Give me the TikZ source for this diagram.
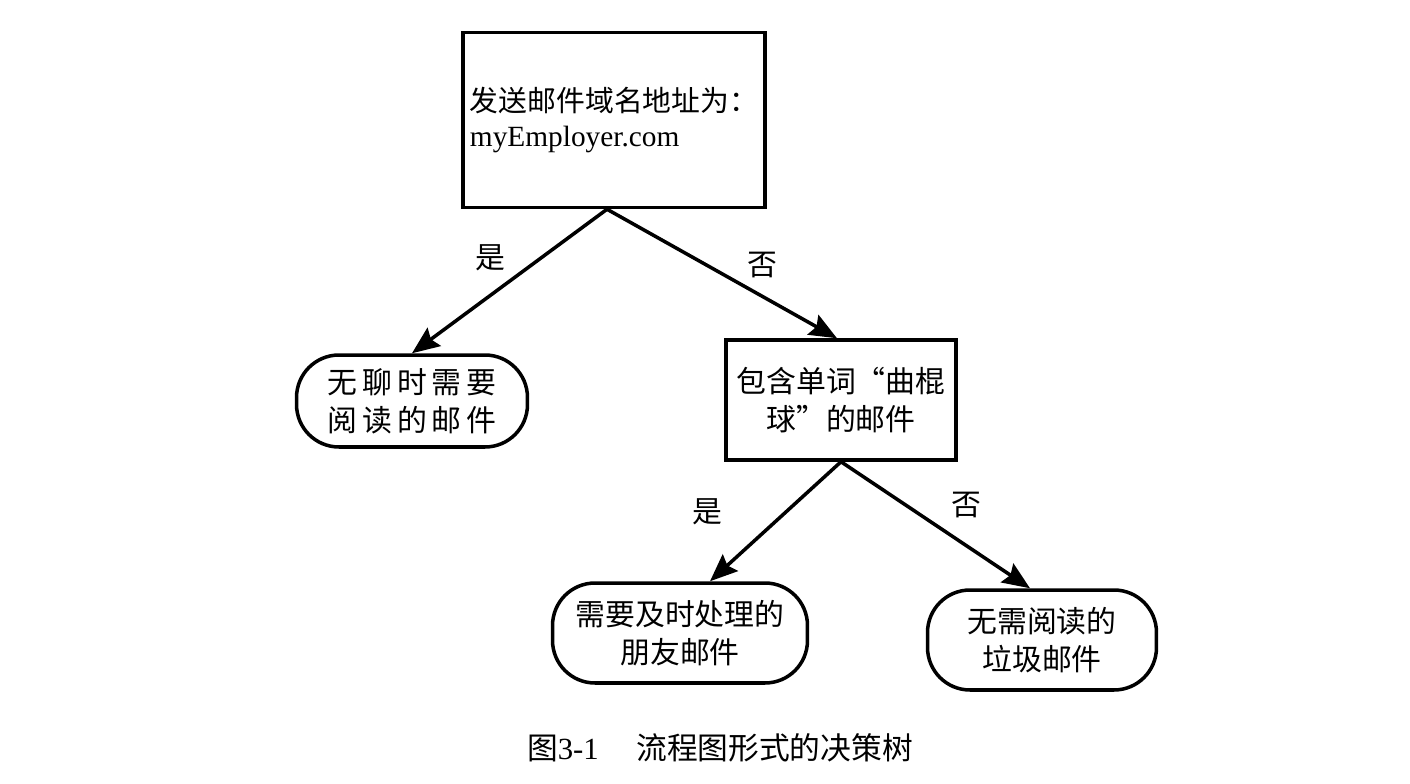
\documentclass[tikz,border=0pt]{standalone}
\usepackage{fontspec}
\setmainfont{Liberation Serif}
\newfontfamily\cjk{Noto Sans CJK SC}
\usetikzlibrary{arrows.meta,positioning}

\tikzset{
  boxnode/.style = {draw, line width = 2pt, shape = rectangle, align = center, font = \fontsize{17}{21.5}\selectfont\cjk},
  leafnode/.style = {draw, line width = 2pt, shape = rectangle, rounded corners = 0.85cm, align = center, font = \fontsize{17}{21.5}\selectfont\cjk},
  answer/.style = {font = \fontsize{17}{21.5}\selectfont\cjk},
  edge/.style = {line width = 2pt, -{Stealth[length = 0.55cm, width = 0.45cm, inset = 0.08cm]}}
}

\begin{document}
\begin{tikzpicture}[x = 0.02cm, y = -0.02cm]
\useasboundingbox (0,0) rectangle (1410,784);
% decision nodes
\node[boxnode, minimum width = 6.04cm, minimum height = 3.5cm, inner xsep = 0.5pt, align = left,
      font = \fontsize{16.4}{21.5}\selectfont\cjk] (domain) at (614,120)
  {\raisebox{-0.1cm}{发送邮件域名地址为：}\\[0.05cm]{\rmfamily\fontsize{16.7}{21.5}\selectfont myEmployer.com}};
\node[boxnode, minimum width = 4.6cm, minimum height = 2.4cm] (hockey) at (841,400)
  {包含单词“曲棍\\球”的邮件};
% leaves
\node[leafnode, minimum width = 4.62cm, minimum height = 1.84cm] (boring) at (412,401)
  {无\,聊\,时\,需\,要\\阅\,读\,的\,邮\,件};
\node[leafnode, minimum width = 5.1cm, minimum height = 2cm] (friend) at (680,633)
  {需要及时处理的\\朋友邮件};
\node[leafnode, minimum width = 4.58cm, minimum height = 2cm] (spam) at (1042,640)
  {无需阅读的\\垃圾邮件};
% edges
\draw[edge] ([xshift = -0.14cm]domain.south) -- (boring.north);
\draw[edge] ([xshift = -0.14cm]domain.south) -- ([xshift = -0.08cm]hockey.north);
\draw[edge] (hockey.south) -- ([xshift = 0.6cm]friend.north);
\draw[edge] (hockey.south) -- ([xshift = -0.24cm]spam.north);
% edge labels
\node[answer] (yes1) at (490,258) {是};
\node[answer] (no1) at (762,265) {否};
\node[answer] (yes2) at (707,512) {是};
\node[answer] (no2) at (966,505) {否};
% caption
\node[font = \fontsize{17.5}{21}\selectfont] (caption) at (720,748)
  {{\cjk 图}3-1\hspace{0.75cm}{\cjk 流程图形式的决策树}};
\end{tikzpicture}
\end{document}
